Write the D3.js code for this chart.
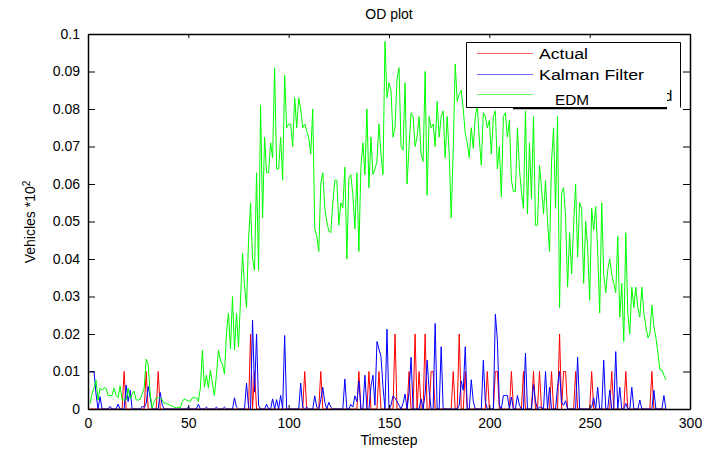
<!DOCTYPE html>
<html>
<head>
<meta charset="utf-8">
<script src="https://cdn.jsdelivr.net/npm/d3@7"></script>
<style>
  body { margin: 0; background: #fff; }
  svg { display: block; font-family: "Liberation Sans", Arial, sans-serif; }
</style>
</head>
<body>
<div id="chart"></div>
<script>
// timestep index, 1..288
const timesteps = d3.range(1, 289);

// Actual OD counts (vehicles * 10^2)
const actual = [
  0,0,0,0,0,0,0,0,0,0,0,0,
  0,0,0,0,0,0.01,0,0,0,0,0,0,
  0,0,0,0,0.01,0,0,0,0,0,0.01,0,
  0,0,0,0,0,0,0,0,0,0,0,0,
  0,0,0,0,0,0,0,0,0,0,0,0,
  0,0,0,0,0,0,0,0,0,0,0,0,
  0,0,0,0,0,0,0,0,0.02,0,0.01,0,
  0,0,0,0,0,0,0,0,0,0,0,0,
  0,0,0,0,0,0,0,0,0,0,0,0.01,
  0,0,0,0,0,0,0,0.01,0,0,0,0,
  0,0,0,0,0,0,0,0,0,0,0,0,
  0,0,0.01,0,0,0,0,0.01,0,0,0,0,
  0.01,0,0,0,0,0,0,0,0.02,0,0,0,
  0,0,0,0.01,0,0,0.02,0,0.01,0,0,0.02,
  0,0,0.01,0.01,0,0,0,0,0,0,0,0,
  0,0.01,0,0,0.02,0,0,0.01,0,0,0,0,
  0,0,0,0,0,0,0.01,0,0,0,0.01,0.01,
  0,0,0,0,0,0,0.01,0,0,0,0,0,
  0.01,0,0,0,0,0.01,0,0,0.01,0,0,0,
  0,0,0.01,0,0,0,0.02,0,0.01,0.01,0,0,
  0,0,0.01,0,0,0,0,0,0,0,0.01,0,
  0,0,0,0,0,0,0,0,0.01,0,0,0,
  0,0,0,0.01,0,0,0,0,0,0,0,0,
  0,0,0,0,0.01,0,0,0,0,0,0,0
];

// Kalman filter estimate
const kalman = [
  0.01,0.01,0.01,0.004,0,0.0033,0,0,0,0,0.0007,0,
  0,0,0.0013,0,0,0,0.0064,0.002,0.005,0,0,0,
  0,0,0.0007,0.0005,0.0015,0.006,0.003,0,0,0,0,0.0044,
  0.001,0,0,0,0,0,0,0,0,0,0,0,
  0,0.0005,0,0,0,0,0.0013,0,0,0,0.0005,0,
  0,0,0,0.0005,0,0,0,0.0005,0,0,0,0,
  0.003,0.0005,0,0,0,0,0.0069,0.0005,0,0.0237,0.0045,0.02,
  0.001,0,0,0,0.0013,0,0,0.0027,0,0.0025,0,0.0036,
  0,0.0196,0,0,0,0,0,0,0,0.0069,0.0005,0,
  0.0005,0,0,0,0.0035,0.0005,0,0.0025,0.0058,0.0018,0,0.0018,
  0.0005,0,0,0,0,0,0,0.008,0,0,0.0012,0.0005,
  0.0035,0.002,0.0075,0,0,0.009,0,0,0.006,0.009,0.001,0.018,
  0.016,0.014,0.006,0,0.0213,0,0.001,0.0035,0.003,0.002,0.001,0,
  0.0015,0.004,0,0.0045,0.0138,0,0,0,0,0.0027,0,0.004,
  0.013,0.005,0,0,0.0228,0,0,0.0166,0,0,0,0,
  0,0,0,0,0.001,0.0075,0.005,0.0166,0,0,0.0078,0.002,
  0,0,0,0,0.013,0.002,0,0,0,0,0.0253,0.0184,
  0.001,0,0.0036,0.0036,0.0036,0,0.0032,0,0,0.0036,0.001,0,
  0,0.0149,0,0,0,0.0065,0.002,0,0.0005,0.0005,0,0.01,
  0,0.0058,0,0,0,0.006,0.01,0.0018,0.001,0.0022,0,0,
  0,0,0,0.0138,0,0,0,0,0,0,0.0005,0.003,
  0,0.0058,0,0,0.013,0,0,0.005,0,0,0.0153,0,
  0.0058,0,0,0.0015,0,0,0.0058,0,0,0,0.0024,0,
  0,0,0,0,0,0.005,0,0,0,0,0.0036,0
];

// EDM estimate
const edm = [
  0.0015,0.0040,0.0056,0.0077,0.0024,0.0056,0.0050,0.0056,0.0056,0.0036,0.0036,0.0036,
  0.0056,0.0036,0.0030,0.0062,0.0024,0.0024,0.0024,0.0056,0.0027,0.0040,0.0048,0.0024,
  0.0024,0.0026,0.0040,0.0056,0.0133,0.0118,0.0040,0.0003,0.0020,0.0030,0.0030,0.0030,
  0.0024,0.0015,0.0015,0.0012,0.0010,0.0008,0.0005,0.0003,0.0005,0.0003,0.0020,0.0027,
  0.0024,0.0022,0.0020,0.0030,0.0030,0.0030,0.0020,0.0056,0.0157,0.0058,0.0090,0.0056,
  0.0104,0.0068,0.0036,0.0090,0.0157,0.0130,0.0120,0.0093,0.0200,0.0256,0.0160,0.0300,
  0.0157,0.0256,0.0166,0.0290,0.0416,0.0330,0.0270,0.0450,0.0550,0.0400,0.0370,0.0630,
  0.0370,0.0810,0.0510,0.0725,0.0630,0.0630,0.0710,0.0670,0.0910,0.0640,0.0640,0.0725,
  0.0610,0.0890,0.0750,0.0760,0.0760,0.0700,0.0830,0.0750,0.0830,0.0800,0.0750,0.0760,
  0.0740,0.0725,0.0680,0.0800,0.0480,0.0460,0.0420,0.0600,0.0630,0.0536,0.0500,0.0475,
  0.0470,0.0550,0.0610,0.0610,0.0490,0.0550,0.0536,0.0645,0.0400,0.0615,0.0625,0.0570,
  0.0480,0.0630,0.0420,0.0645,0.0710,0.0625,0.0800,0.0590,0.0725,0.0625,0.0640,0.0660,
  0.0760,0.0680,0.0625,0.0980,0.0830,0.0870,0.0850,0.0725,0.0750,0.0880,0.0910,0.0700,
  0.0690,0.0870,0.0600,0.0700,0.0790,0.0780,0.0700,0.0725,0.0780,0.0680,0.0660,0.0900,
  0.0570,0.0780,0.0750,0.0760,0.0700,0.0820,0.0725,0.0780,0.0795,0.0670,0.0780,0.0680,
  0.0510,0.0690,0.0920,0.0820,0.0840,0.0850,0.0800,0.0735,0.0710,0.0670,0.0750,0.0695,
  0.0780,0.0810,0.0720,0.0650,0.0790,0.0780,0.0750,0.0770,0.0680,0.0780,0.0795,0.0640,
  0.0700,0.0565,0.0780,0.0790,0.0725,0.0770,0.0610,0.0580,0.0580,0.0750,0.0640,0.0580,
  0.0535,0.0795,0.0520,0.0710,0.0560,0.0780,0.0490,0.0490,0.0650,0.0590,0.0520,0.0610,
  0.0500,0.0420,0.0660,0.0750,0.0535,0.0780,0.0270,0.0575,0.0590,0.0510,0.0325,0.0470,
  0.0360,0.0490,0.0600,0.0405,0.0550,0.0535,0.0335,0.0500,0.0430,0.0290,0.0535,0.0477,
  0.0540,0.0420,0.0256,0.0550,0.0360,0.0310,0.0370,0.0400,0.0360,0.0335,0.0310,0.0460,
  0.0245,0.0335,0.0180,0.0470,0.0256,0.0200,0.0325,0.0270,0.0325,0.0270,0.0245,0.0325,
  0.0256,0.0220,0.0190,0.0200,0.0277,0.0220,0.0190,0.0150,0.0104,0.0104,0.0090,0.0078
];

const xTicks = [0, 50, 100, 150, 200, 250, 300];
const yTicks = [0, 0.01, 0.02, 0.03, 0.04, 0.05, 0.06, 0.07, 0.08, 0.09, 0.1];
const yTickLabels = ['0', '0.01', '0.02', '0.03', '0.04', '0.05', '0.06', '0.07', '0.08', '0.09', '0.1'];
const legendLabels = ['Actual', 'Kalman Filter', 'EDM'];
const seriesColors = ['#ff0000', '#0000ff', '#00ff00'];

const width = 704, height = 450;
const plot = { left: 88, right: 690, top: 34, bottom: 409 };

const svg = d3.select('#chart').append('svg')
  .attr('width', width)
  .attr('height', height);

const x = d3.scaleLinear().domain([0, 300]).range([plot.left, plot.right]);
const y = d3.scaleLinear().domain([0, 0.1]).range([plot.bottom, plot.top]);

// series lines
const line = d3.line()
  .x((d, i) => x(timesteps[i]))
  .y(d => y(d));

[actual, kalman, edm].forEach((s, k) => {
  svg.append('path')
    .datum(s)
    .attr('d', line)
    .attr('fill', 'none')
    .attr('stroke', seriesColors[k])
    .attr('stroke-width', 1);
});

// axes, matlab style ticks pointing inwards
function styleAxis(g) {
  g.attr('font-family', null).attr('font-size', null);
  g.select('.domain').attr('stroke', '#000').attr('stroke-width', 1.5);
  g.selectAll('.tick line').attr('stroke', '#000');
  g.selectAll('.tick text').attr('fill', '#000').style('font-size', '14px');
}

svg.append('g')
  .attr('transform', `translate(0,${plot.bottom})`)
  .call(d3.axisBottom(x).tickValues(xTicks).tickSize(-4).tickSizeOuter(0).tickPadding(9))
  .call(styleAxis);

svg.append('g')
  .attr('transform', `translate(0,${plot.top})`)
  .call(d3.axisTop(x).tickValues(xTicks).tickSize(-4).tickSizeOuter(0).tickFormat(''))
  .call(styleAxis);

svg.append('g')
  .attr('transform', `translate(${plot.left},0)`)
  .call(d3.axisLeft(y).tickValues(yTicks).tickFormat((d, i) => yTickLabels[i]).tickSize(-7).tickSizeOuter(0).tickPadding(8))
  .call(styleAxis);

svg.append('g')
  .attr('transform', `translate(${plot.right},0)`)
  .call(d3.axisRight(y).tickValues(yTicks).tickSize(-7).tickSizeOuter(0).tickFormat(''))
  .call(styleAxis);

// titles
svg.append('text')
  .attr('x', (plot.left + plot.right) / 2)
  .attr('y', 19)
  .attr('text-anchor', 'middle')
  .style('font-size', '14px')
  .text('OD plot');

svg.append('text')
  .attr('x', (plot.left + plot.right) / 2)
  .attr('y', 445)
  .attr('text-anchor', 'middle')
  .style('font-size', '14px')
  .text('Timestep');

const yLab = svg.append('text')
  .attr('transform', 'translate(35,222) rotate(-90)')
  .attr('text-anchor', 'middle')
  .style('font-size', '14px');
yLab.append('tspan').text('Vehicles *10');
yLab.append('tspan').attr('dy', -5).style('font-size', '10px').text('2');

// an older legend box sits behind the real one, only its edge and a "d" show
svg.append('rect')
  .attr('x', 513).attr('y', 42).attr('width', 168).attr('height', 66)
  .attr('fill', '#fff');
svg.append('line')
  .attr('x1', 513).attr('x2', 667).attr('y1', 108.5).attr('y2', 108.5)
  .attr('stroke', '#000').attr('stroke-width', 1.5);
svg.append('text')
  .attr('x', 664).attr('y', 101)
  .style('font-size', '15px')
  .text('d');

// legend
const legend = svg.append('g');
legend.append('rect')
  .attr('x', 466.5).attr('y', 42.5).attr('width', 200.5).attr('height', 65)
  .attr('fill', '#fff');
legend.append('path')
  .attr('d', 'M667,107.5 H466.5 V42.5 H680.5 V107.5')
  .attr('fill', 'none')
  .attr('stroke', '#000')
  .attr('stroke-width', 1);

const legendRowsY = [53.5, 74.5, 94.5];
const legendTextX = [539, 539, 555];
const legendTextW = [49, 105, 34];
legendLabels.forEach((lab, i) => {
  legend.append('line')
    .attr('x1', 477).attr('x2', 533)
    .attr('y1', legendRowsY[i]).attr('y2', legendRowsY[i])
    .attr('stroke', seriesColors[i])
    .attr('stroke-opacity', 0.6)
    .attr('stroke-width', 1);
  legend.append('text')
    .attr('x', legendTextX[i])
    .attr('y', legendRowsY[i] + 5.5 + (i === 2 ? 5 : 0))
    .attr('textLength', legendTextW[i])
    .attr('lengthAdjust', 'spacingAndGlyphs')
    .style('font-size', '14px')
    .text(lab);
});
</script>
</body>
</html>
